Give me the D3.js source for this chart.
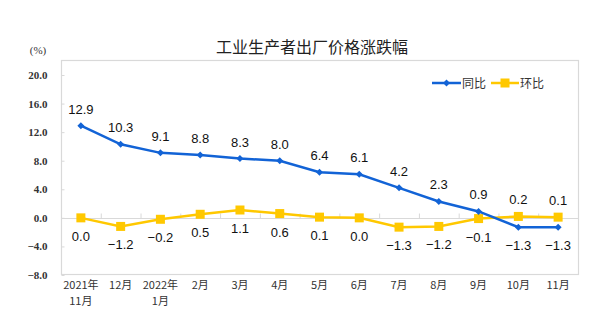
<!DOCTYPE html>
<html><head><meta charset="utf-8">
<script src="https://cdn.jsdelivr.net/npm/d3@7"></script>
<style>body{margin:0;background:#fff}svg{display:block}</style>
</head><body><svg id="c" width="600" height="329"></svg>
<script>
const categories = [["2021年","11月"],["12月"],["2022年","1月"],["2月"],["3月"],["4月"],["5月"],["6月"],["7月"],["8月"],["9月"],["10月"],["11月"]];
const yoy = [12.9,10.3,9.1,8.8,8.3,8.0,6.4,6.1,4.2,2.3,0.9,-1.3,-1.3];
const mom = [0.0,-1.2,-0.2,0.5,1.1,0.6,0.1,0.0,-1.3,-1.2,-0.1,0.2,0.1];
const yTicks = [20,16,12,8,4,0,-4,-8];
const seriesNames = ["同比","环比"];

const svg = d3.select("#c");
const L=61, R=578, T=60, B=274;
const x = d3.scaleBand().domain(d3.range(categories.length)).range([L,R]);
const y = d3.scaleLinear().domain([-8,20]).range([275,75]);
const blue="#1263d6", yellow="#ffc800";

// frame
svg.append("rect").attr("x",L+0.5).attr("y",T+0.5).attr("width",R-L).attr("height",B-T)
  .attr("fill","none").attr("stroke","#d9d9d9").attr("stroke-width",1.2);

// title
svg.append("text").attr("x",312).attr("y",53).attr("text-anchor","middle")
  .attr("font-family","'Noto Sans CJK SC'").attr("font-size",16).attr("fill","#222").text("工业生产者出厂价格涨跌幅");
svg.append("text").attr("x",38).attr("y",54).attr("text-anchor","middle")
  .attr("font-family","'Liberation Serif'").attr("font-size",11).attr("fill","#333").text("(%)");

// y axis
const yAxis = d3.axisLeft(y).tickValues(yTicks).tickFormat(d3.format(".1f")).tickSize(-3).tickPadding(14);
const yg = svg.append("g").attr("transform",`translate(${L+0.5},0)`).call(yAxis);
yg.select(".domain").remove();
yg.selectAll("line").attr("stroke","#d9d9d9");
yg.selectAll("text").attr("font-family","'Liberation Serif'").attr("font-size",11).attr("fill","#333").attr("font-weight","bold");

// zero line with category ticks
const xg = svg.append("g").attr("transform",`translate(0,${Math.round(y(0))+0.5})`);
xg.append("line").attr("x1",L).attr("x2",R).attr("stroke","#d9d9d9").attr("stroke-width",1.2);
xg.selectAll("line.t").data(d3.range(1,categories.length)).join("line").attr("class","t")
  .attr("x1",i=>x(i)+0.5).attr("x2",i=>x(i)+0.5).attr("y1",0).attr("y2",-5).attr("stroke","#d9d9d9");

// x labels
const xl = svg.append("g");
categories.forEach((c,i)=>{
  c.forEach((s,j)=>{
    xl.append("text").attr("x",x(i)+x.bandwidth()/2).attr("y",289+j*16).attr("text-anchor","middle")
      .attr("font-family","'Noto Sans CJK SC'").attr("font-size",11).attr("fill","#333").text(s);
  });
});

const cx = i=>x(i)+x.bandwidth()/2;
const line = d3.line().x((d,i)=>cx(i)).y(d=>y(d));

// mom series
svg.append("path").datum(mom).attr("d",line).attr("fill","none").attr("stroke",yellow).attr("stroke-width",2.5);
svg.selectAll("rect.m").data(mom).join("rect").attr("class","m")
  .attr("x",(d,i)=>cx(i)-4.5).attr("y",d=>y(d)-4.5).attr("width",9).attr("height",9).attr("fill",yellow);

// yoy series
svg.append("path").datum(yoy).attr("d",line).attr("fill","none").attr("stroke",blue).attr("stroke-width",2.5);
svg.selectAll("path.d").data(yoy).join("path").attr("class","d")
  .attr("d",(d,i)=>`M${cx(i)},${y(d)-3.5}L${cx(i)+3.5},${y(d)}L${cx(i)},${y(d)+3.5}L${cx(i)-3.5},${y(d)}Z`).attr("fill",blue);

// labels
const lab = svg.append("g").attr("font-family","'Liberation Sans'").attr("font-size",13).attr("fill","#111").attr("text-anchor","middle");
yoy.forEach((v,i)=>{
  const below = i>=11;
  lab.append("text").attr("x",cx(i)).attr("y",below? y(v)+23 : y(v)-12).text(d3.format(".1f")(v));
});
mom.forEach((v,i)=>{
  const above = i>=11;
  lab.append("text").attr("x",cx(i)).attr("y",above? y(v)-12 : y(v)+23).text(d3.format(".1f")(v));
});

// legend
const lg = svg.append("g");
lg.append("line").attr("x1",432).attr("x2",461).attr("y1",83).attr("y2",83).attr("stroke",blue).attr("stroke-width",2.5);
lg.append("path").attr("d","M446.5,79.5L450,83L446.5,86.5L443,83Z").attr("fill",blue);
lg.append("text").attr("x",462).attr("y",87.5).attr("font-family","'Noto Sans CJK SC'").attr("font-size",12).attr("fill","#333").text(seriesNames[0]);
lg.append("line").attr("x1",491).attr("x2",519).attr("y1",83).attr("y2",83).attr("stroke",yellow).attr("stroke-width",2.5);
lg.append("rect").attr("x",500.5).attr("y",78.5).attr("width",9).attr("height",9).attr("fill",yellow);
lg.append("text").attr("x",520).attr("y",87.5).attr("font-family","'Noto Sans CJK SC'").attr("font-size",12).attr("fill","#333").text(seriesNames[1]);
</script></body></html>
